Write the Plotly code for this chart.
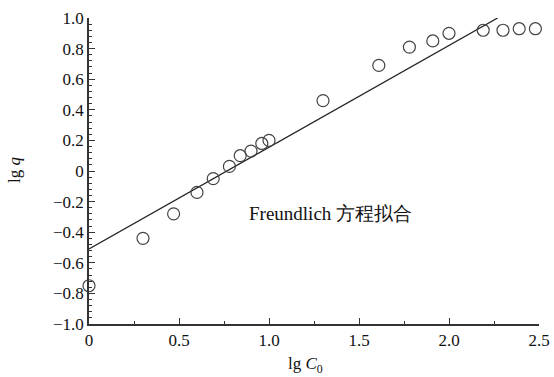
import plotly.graph_objects as go

# data
lgC0 = [0.0, 0.30, 0.47, 0.60, 0.69, 0.78, 0.84, 0.90, 0.96, 1.00,
        1.30, 1.61, 1.78, 1.91, 2.00, 2.19, 2.30, 2.39, 2.48]
lgq = [-0.75, -0.44, -0.28, -0.14, -0.05, 0.03, 0.10, 0.13, 0.18, 0.20,
       0.46, 0.69, 0.81, 0.85, 0.90, 0.92, 0.92, 0.93, 0.93]
fit_x = [0.0, 2.27]
fit_y = [-0.51, 1.00]

x_ticks = [0, 0.5, 1.0, 1.5, 2.0, 2.5]
x_labels = ["0", "0.5", "1.0", "1.5", "2.0", "2.5"]
y_ticks = [-1.0, -0.8, -0.6, -0.4, -0.2, 0, 0.2, 0.4, 0.6, 0.8, 1.0]
y_labels = ["−1.0", "−0.8", "−0.6", "−0.4", "−0.2", "0", "0.2", "0.4", "0.6", "0.8", "1.0"]

FONT = "Liberation Serif"

fig = go.Figure()
fig.add_trace(go.Scatter(x=fit_x, y=fit_y, mode="lines",
                         line=dict(color="#222", width=1.3), showlegend=False,
                         cliponaxis=False))
fig.add_trace(go.Scatter(x=lgC0, y=lgq, mode="markers",
                         marker=dict(symbol="circle-open", size=12,
                                     line=dict(color="#444", width=1.2), color="#444"),
                         showlegend=False, cliponaxis=False))

fig.add_annotation(x=0.88, y=-0.28, xref="x", yref="y", xanchor="left", yanchor="middle",
                   text="Freundlich 方程拟合", showarrow=False,
                   font=dict(family=FONT, size=19, color="#111"))
# axis titles
fig.add_annotation(x=-0.1667, y=0.503, xref="paper", yref="paper", xanchor="center", yanchor="middle",
                   text="lg <i>q</i>", textangle=-90, showarrow=False,
                   font=dict(family=FONT, size=17, color="#111"))
fig.add_annotation(x=0.48, y=-0.133, xref="paper", yref="paper", xanchor="center", yanchor="middle",
                   text="lg <i>C</i><sub>0</sub>", showarrow=False,
                   font=dict(family=FONT, size=17, color="#111"))

fig.update_layout(
    width=554, height=377,
    margin=dict(l=89, r=15, t=18, b=53),
    paper_bgcolor="white", plot_bgcolor="white",
    font=dict(family=FONT, size=17, color="#111"),
    xaxis=dict(range=[0, 2.5], tickvals=x_ticks, ticktext=x_labels, automargin=False,
               showgrid=False, zeroline=False, showline=True, linecolor="#333", linewidth=1.5,
               ticks="inside", ticklen=6, tickwidth=1.2, tickcolor="#333",
               minor=dict(dtick=0.25, tick0=0, ticks="inside", ticklen=3, tickcolor="#333", tickwidth=1.2)),
    yaxis=dict(range=[-1, 1], tickvals=y_ticks, ticktext=y_labels, automargin=False,
               showgrid=False, zeroline=False, showline=True, linecolor="#333", linewidth=1.5,
               ticks="inside", ticklen=6, tickwidth=1.2, tickcolor="#333",
               minor=dict(dtick=0.04, tick0=0, ticks="inside", ticklen=3, tickcolor="#333", tickwidth=1.2)),
)

fig.write_html("out.html", config={"displayModeBar": False},
               post_script="document.body.style.margin='0';document.body.style.overflow='hidden';")
